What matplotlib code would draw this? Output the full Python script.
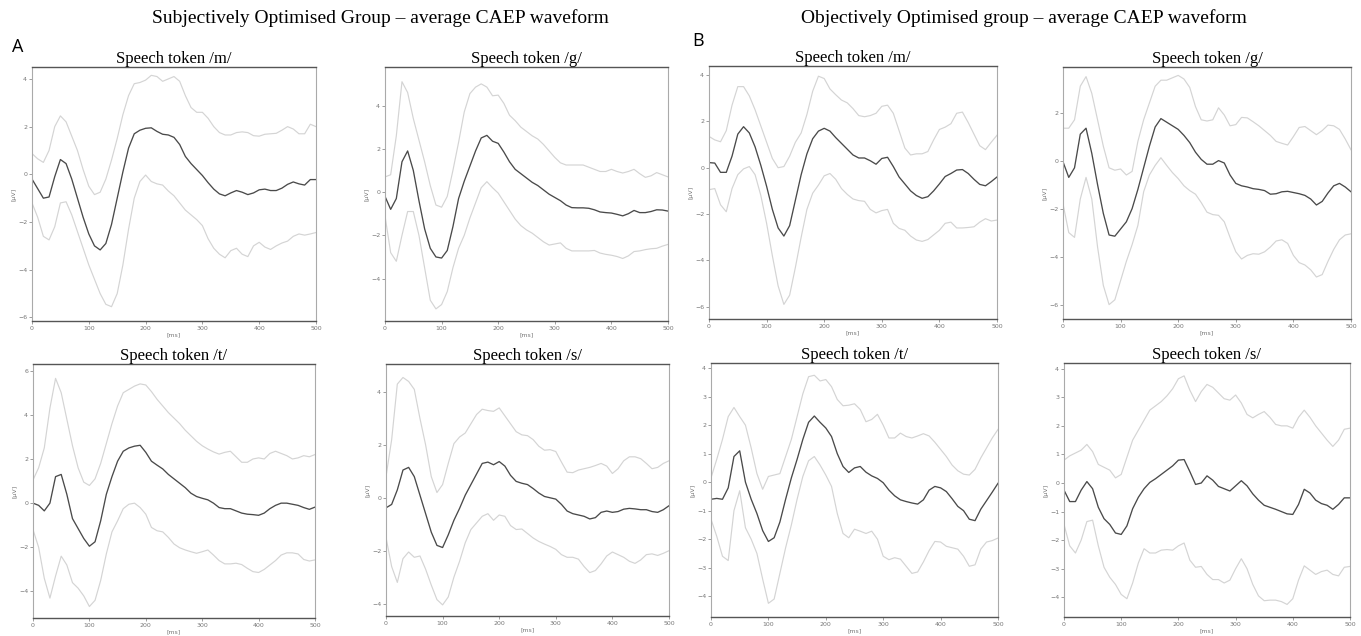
import numpy as np
import matplotlib.pyplot as plt

# time axis of the averaged waveforms (ms), one sample every 10 ms
ms = np.arange(0, 510, 10)

# Subjectively optimised group (panel A)
subj_m_mean = [-0.2, -0.6, -1.0, -0.95, -0.1, 0.62, 0.45, -0.2, -1.0, -1.8,
               -2.5, -3.0, -3.17, -2.9, -2.1, -1.0, 0.1, 1.1, 1.7, 1.85,
               1.93, 1.95, 1.8, 1.68, 1.65, 1.55, 1.25, 0.75, 0.45, 0.2,
               -0.05, -0.35, -0.62, -0.82, -0.9, -0.78, -0.68, -0.75, -0.85, -0.78,
               -0.65, -0.62, -0.68, -0.68, -0.58, -0.42, -0.32, -0.4, -0.45, -0.22, -0.22]
subj_m_upper = [0.87, 0.65, 0.5, 1.0, 2.0, 2.45, 2.2, 1.6, 1.0, 0.2,
                -0.5, -0.85, -0.75, -0.2, 0.6, 1.5, 2.5, 3.3, 3.8, 3.85,
                3.95, 4.15, 4.1, 3.9, 4.0, 4.1, 3.9, 3.3, 2.8, 2.6,
                2.6, 2.35, 2.0, 1.75, 1.65, 1.65, 1.75, 1.78, 1.75, 1.62,
                1.6, 1.68, 1.7, 1.72, 1.85, 2.0, 1.9, 1.7, 1.7, 2.1, 2.0]
subj_m_lower = [-1.2, -1.8, -2.6, -2.75, -2.2, -1.2, -1.15, -1.7, -2.4, -3.1,
                -3.8, -4.4, -5.0, -5.45, -5.55, -5.0, -3.8, -2.3, -1.0, -0.3,
                -0.03, -0.3, -0.4, -0.45, -0.7, -0.9, -1.2, -1.5, -1.7, -1.9,
                -2.15, -2.7, -3.1, -3.35, -3.5, -3.2, -3.1, -3.35, -3.45, -3.0,
                -2.85, -3.05, -3.15, -3.0, -2.88, -2.8, -2.6, -2.5, -2.55, -2.5, -2.44]

subj_g_mean = [-0.2, -0.8, -0.3, 1.4, 1.9, 1.0, -0.4, -1.7, -2.6, -3.0,
               -3.05, -2.7, -1.6, -0.3, 0.5, 1.2, 1.9, 2.5, 2.62, 2.35,
               2.25, 1.85, 1.4, 1.05, 0.85, 0.65, 0.45, 0.3, 0.1, -0.1,
               -0.25, -0.4, -0.6, -0.72, -0.73, -0.73, -0.75, -0.82, -0.92, -0.95,
               -0.97, -1.03, -1.1, -1.0, -0.85, -0.95, -0.95, -0.9, -0.82, -0.83, -0.88]
subj_g_upper = [0.7, 0.8, 2.6, 5.1, 4.6, 3.4, 2.4, 1.4, 0.3, -0.6,
                -0.7, -0.2, 1.0, 2.3, 3.7, 4.55, 4.85, 5.0, 4.85, 4.45,
                4.48, 4.1, 3.55, 3.3, 3.0, 2.8, 2.6, 2.45, 2.2, 1.9,
                1.6, 1.35, 1.25, 1.25, 1.25, 1.25, 1.15, 1.05, 0.95, 0.95,
                1.05, 0.95, 0.88, 0.95, 1.05, 0.85, 0.68, 0.75, 0.9, 0.8, 0.7]
subj_g_lower = [-1.1, -2.8, -3.2, -2.0, -0.9, -0.9, -2.0, -3.5, -5.0, -5.4,
                -5.2, -4.6, -3.5, -2.6, -2.0, -1.2, -0.5, 0.2, 0.48, 0.2,
                -0.05, -0.45, -0.85, -1.25, -1.55, -1.75, -1.9, -2.1, -2.3, -2.45,
                -2.4, -2.35, -2.6, -2.72, -2.72, -2.72, -2.72, -2.7, -2.82, -2.88,
                -2.92, -2.98, -3.07, -2.95, -2.75, -2.72, -2.66, -2.62, -2.6, -2.5, -2.42]

subj_t_mean = [0.0, -0.1, -0.35, 0.0, 1.2, 1.3, 0.4, -0.7, -1.15, -1.6,
               -1.95, -1.75, -0.8, 0.4, 1.2, 1.9, 2.35, 2.5, 2.58, 2.62,
               2.3, 1.9, 1.72, 1.55, 1.3, 1.1, 0.9, 0.7, 0.45, 0.3,
               0.22, 0.15, 0.0, -0.2, -0.25, -0.25, -0.35, -0.45, -0.5, -0.52,
               -0.55, -0.45, -0.25, -0.1, 0.0, 0.0, -0.05, -0.1, -0.2, -0.28, -0.18]
subj_t_upper = [1.05, 1.6, 2.5, 4.3, 5.65, 5.0, 3.8, 2.6, 1.6, 0.95,
                0.8, 1.1, 1.8, 2.7, 3.6, 4.4, 5.0, 5.15, 5.3, 5.4,
                5.35, 5.05, 4.7, 4.4, 4.1, 3.85, 3.6, 3.3, 3.05, 2.8,
                2.6, 2.45, 2.32, 2.22, 2.3, 2.35, 2.1, 1.85, 1.85, 2.0,
                2.05, 2.0, 2.25, 2.35, 2.25, 2.15, 2.0, 2.05, 2.15, 2.1, 2.2]
subj_t_lower = [-1.2, -2.0, -3.4, -4.3, -3.3, -2.4, -2.8, -3.6, -3.85, -4.2,
                -4.68, -4.4, -3.5, -2.3, -1.3, -0.8, -0.25, -0.05, 0.0, -0.2,
                -0.5, -1.1, -1.25, -1.3, -1.55, -1.85, -2.02, -2.12, -2.2, -2.27,
                -2.2, -2.12, -2.35, -2.6, -2.75, -2.75, -2.72, -2.78, -2.95, -3.1,
                -3.14, -3.0, -2.8, -2.6, -2.35, -2.25, -2.25, -2.3, -2.55, -2.62, -2.57]

subj_s_mean = [-0.38, -0.25, 0.3, 1.05, 1.15, 0.8, 0.1, -0.6, -1.3, -1.8,
               -1.88, -1.4, -0.85, -0.4, 0.1, 0.5, 0.9, 1.3, 1.35, 1.25,
               1.37, 1.2, 0.85, 0.62, 0.55, 0.5, 0.35, 0.18, 0.05, 0.0,
               -0.05, -0.25, -0.5, -0.6, -0.65, -0.7, -0.8, -0.75, -0.55, -0.5,
               -0.55, -0.52, -0.43, -0.4, -0.42, -0.45, -0.45, -0.52, -0.55, -0.45, -0.3]
subj_s_upper = [0.8, 2.2, 4.3, 4.55, 4.4, 4.1, 3.0, 2.0, 0.8, 0.2,
                0.5, 1.3, 2.05, 2.3, 2.45, 2.8, 3.15, 3.35, 3.3, 3.27,
                3.4, 3.1, 2.8, 2.5, 2.38, 2.35, 2.2, 1.95, 1.8, 1.82,
                1.75, 1.35, 0.97, 0.95, 1.05, 1.1, 1.15, 1.22, 1.3, 1.2,
                0.92, 1.1, 1.4, 1.55, 1.55, 1.48, 1.3, 1.1, 1.15, 1.3, 1.4]
subj_s_lower = [-1.5, -2.6, -3.2, -2.3, -2.05, -2.25, -2.2, -2.7, -3.3, -3.85,
                -4.05, -3.75, -3.0, -2.4, -1.7, -1.2, -0.95, -0.7, -0.6, -0.85,
                -0.65, -0.7, -1.05, -1.2, -1.18, -1.35, -1.52, -1.65, -1.75, -1.84,
                -1.95, -2.15, -2.25, -2.25, -2.32, -2.6, -2.83, -2.75, -2.5, -2.2,
                -2.05, -2.15, -2.25, -2.4, -2.48, -2.35, -2.15, -2.12, -2.18, -2.1, -2.0]

# Objectively optimised group (panel B)
obj_m_mean = [0.22, 0.2, -0.2, -0.2, 0.5, 1.45, 1.77, 1.5, 0.9, 0.1,
              -0.8, -1.8, -2.6, -2.95, -2.5, -1.4, -0.3, 0.6, 1.25, 1.58,
              1.7, 1.58, 1.3, 1.05, 0.8, 0.55, 0.42, 0.42, 0.3, 0.15,
              0.4, 0.45, 0.05, -0.4, -0.7, -1.0, -1.2, -1.32, -1.25, -1.0,
              -0.7, -0.38, -0.25, -0.1, -0.08, -0.25, -0.5, -0.72, -0.78, -0.6, -0.4]
obj_m_upper = [1.35, 1.2, 1.12, 1.6, 2.7, 3.5, 3.5, 3.1, 2.5, 1.8,
               1.1, 0.4, 0.0, 0.05, 0.5, 1.1, 1.5, 2.3, 3.3, 3.95,
               3.85, 3.4, 3.15, 2.92, 2.8, 2.55, 2.25, 2.2, 2.25, 2.35,
               2.65, 2.7, 2.35, 1.6, 0.85, 0.55, 0.6, 0.6, 0.7, 1.2,
               1.65, 1.75, 1.9, 2.35, 2.4, 1.95, 1.45, 0.95, 0.78, 1.1, 1.4]
obj_m_lower = [-0.95, -0.9, -1.6, -1.9, -0.9, -0.3, -0.05, 0.05, -0.3, -1.2,
               -2.4, -3.8, -5.1, -5.9, -5.5, -4.3, -3.0, -1.8, -1.1, -0.75,
               -0.35, -0.25, -0.5, -0.9, -1.15, -1.35, -1.42, -1.45, -1.8, -1.95,
               -1.85, -1.8, -2.4, -2.62, -2.7, -2.95, -3.12, -3.18, -3.1, -2.9,
               -2.7, -2.4, -2.35, -2.6, -2.6, -2.58, -2.55, -2.35, -2.2, -2.3, -2.26]

obj_g_mean = [-0.05, -0.7, -0.3, 1.1, 1.35, 0.3, -1.0, -2.2, -3.1, -3.15,
              -2.85, -2.55, -2.0, -1.2, -0.3, 0.6, 1.4, 1.75, 1.6, 1.45,
              1.3, 1.05, 0.75, 0.35, 0.05, -0.15, -0.15, 0.0, -0.1, -0.6,
              -0.95, -1.05, -1.1, -1.17, -1.2, -1.25, -1.4, -1.38, -1.3, -1.28,
              -1.33, -1.38, -1.45, -1.6, -1.85, -1.7, -1.35, -1.05, -0.95, -1.1, -1.3]
obj_g_upper = [1.35, 1.35, 1.7, 3.1, 3.5, 2.8, 1.7, 0.6, -0.3, -0.4,
               -0.35, -0.6, -0.45, 0.8, 1.7, 2.4, 3.1, 3.35, 3.35, 3.45,
               3.55, 3.4, 3.05, 2.25, 1.7, 1.65, 1.7, 2.2, 1.9, 1.45,
               1.5, 1.8, 1.78, 1.62, 1.45, 1.25, 1.05, 0.8, 0.72, 0.65,
               1.0, 1.38, 1.42, 1.25, 1.08, 1.25, 1.48, 1.45, 1.3, 0.9, 0.45]
obj_g_lower = [-1.8, -3.0, -3.2, -1.6, -0.7, -1.6, -3.6, -5.2, -6.0, -5.8,
               -5.0, -4.2, -3.5, -2.7, -1.3, -0.6, -0.2, 0.12, -0.2, -0.5,
               -0.75, -1.05, -1.25, -1.4, -1.75, -2.15, -2.25, -2.28, -2.55, -3.2,
               -3.8, -4.1, -3.95, -3.88, -3.9, -3.8, -3.6, -3.35, -3.3, -3.45,
               -3.95, -4.25, -4.35, -4.55, -4.85, -4.75, -4.2, -3.7, -3.3, -3.1, -3.05]

obj_t_mean = [-0.6, -0.57, -0.6, -0.2, 0.9, 1.1, 0.0, -0.6, -1.1, -1.7,
              -2.08, -1.95, -1.4, -0.6, 0.15, 0.8, 1.5, 2.1, 2.32, 2.1,
              1.9, 1.6, 1.0, 0.55, 0.34, 0.5, 0.55, 0.35, 0.22, 0.13,
              -0.02, -0.28, -0.48, -0.62, -0.68, -0.73, -0.77, -0.62, -0.28, -0.15,
              -0.2, -0.33, -0.58, -0.85, -1.0, -1.3, -1.35, -0.95, -0.65, -0.35, -0.04]
obj_t_upper = [0.15, 0.8, 1.5, 2.3, 2.62, 2.3, 2.0, 1.2, 0.3, -0.25,
               0.2, 0.25, 0.3, 0.9, 1.5, 2.3, 3.1, 3.7, 3.75, 3.55,
               3.6, 3.35, 2.9, 2.68, 2.7, 2.75, 2.55, 2.12, 2.2, 2.38,
               2.0, 1.55, 1.55, 1.72, 1.6, 1.55, 1.62, 1.7, 1.62, 1.4,
               1.15, 0.9, 0.6, 0.4, 0.28, 0.25, 0.45, 0.85, 1.2, 1.55, 1.85]
obj_t_lower = [-1.3, -1.9, -2.6, -2.75, -1.0, -0.3, -1.6, -2.0, -2.5, -3.4,
               -4.25, -4.1, -3.2, -2.3, -1.5, -0.6, 0.2, 0.75, 0.9, 0.6,
               0.25, -0.15, -1.1, -1.8, -1.95, -1.65, -1.72, -1.8, -1.72, -2.0,
               -2.6, -2.72, -2.65, -2.7, -2.95, -3.2, -3.15, -2.8, -2.4, -2.08,
               -2.1, -2.25, -2.3, -2.35, -2.6, -2.95, -2.9, -2.35, -2.1, -2.05, -1.96]

obj_s_mean = [-0.25, -0.65, -0.65, -0.25, 0.05, -0.2, -0.85, -1.25, -1.45, -1.75,
              -1.8, -1.5, -0.9, -0.5, -0.2, 0.02, 0.15, 0.3, 0.45, 0.6,
              0.8, 0.82, 0.4, -0.05, 0.0, 0.25, 0.1, -0.12, -0.2, -0.28,
              -0.1, 0.08, -0.1, -0.38, -0.6, -0.78, -0.85, -0.92, -1.0, -1.08,
              -1.1, -0.75, -0.22, -0.35, -0.6, -0.72, -0.78, -0.92, -0.75, -0.52, -0.52]
obj_s_upper = [0.8, 0.95, 1.05, 1.15, 1.35, 1.1, 0.65, 0.55, 0.45, 0.18,
               0.3, 0.9, 1.5, 1.85, 2.2, 2.55, 2.7, 2.85, 3.05, 3.3,
               3.65, 3.75, 3.25, 2.85, 3.2, 3.45, 3.35, 3.15, 2.95, 2.9,
               3.08, 2.8, 2.4, 2.28, 2.4, 2.5, 2.3, 2.05, 2.0, 2.0,
               1.92, 2.3, 2.55, 2.3, 2.0, 1.75, 1.5, 1.28, 1.5, 1.88, 1.92]
obj_s_lower = [-1.45, -2.2, -2.45, -2.0, -1.35, -1.3, -2.2, -2.95, -3.3, -3.55,
               -3.9, -4.05, -3.5, -2.8, -2.3, -2.45, -2.45, -2.35, -2.33, -2.35,
               -2.2, -2.1, -2.7, -2.95, -2.92, -3.2, -3.38, -3.38, -3.5, -3.4,
               -3.0, -2.65, -3.0, -3.55, -3.95, -4.12, -4.1, -4.1, -4.15, -4.25,
               -4.05, -3.4, -2.9, -3.05, -3.2, -3.1, -3.05, -3.2, -3.25, -2.95, -2.92]

xticks = [0, 100, 200, 300, 400, 500]

W, H = 1361, 636
fig = plt.figure(figsize=(W / 100, H / 100), dpi=100)
serif = 'Liberation Serif'

# (title, mean, upper, lower, pixel box l/t/r/b, ylim, yticks, title pad)
panels = [
    ('Speech token /m/', subj_m_mean, subj_m_upper, subj_m_lower, (32, 67, 316, 321), (-6.15, 4.5), [-6, -4, -2, 0, 2, 4], 3),
    ('Speech token /g/', subj_g_mean, subj_g_upper, subj_g_lower, (385, 67, 668, 321), (-5.96, 5.78), [-4, -2, 0, 2, 4], 3),
    ('Speech token /t/', subj_t_mean, subj_t_upper, subj_t_lower, (33, 364, 315, 618), (-5.2, 6.3), [-4, -2, 0, 2, 4, 6], 1),
    ('Speech token /s/', subj_s_mean, subj_s_upper, subj_s_lower, (386, 364, 669, 616), (-4.47, 5.06), [-4, -2, 0, 2, 4], 1),
    ('Speech token /m/', obj_m_mean, obj_m_upper, obj_m_lower, (709, 66, 997, 319), (-6.53, 4.39), [-6, -4, -2, 0, 2, 4], 3),
    ('Speech token /g/', obj_g_mean, obj_g_upper, obj_g_lower, (1063, 67, 1351, 319), (-6.6, 3.9), [-6, -4, -2, 0, 2], 3),
    ('Speech token /t/', obj_t_mean, obj_t_upper, obj_t_lower, (711, 363, 998, 617), (-4.73, 4.18), [-4, -3, -2, -1, 0, 1, 2, 3, 4], 1.5),
    ('Speech token /s/', obj_s_mean, obj_s_upper, obj_s_lower, (1064, 363, 1350, 617), (-4.69, 4.2), [-4, -3, -2, -1, 0, 1, 2, 3, 4], 1.5),
]

for title, mean, upper, lower, box, ylim, yt, pad in panels:
    l, t, r, b = box
    ax = fig.add_axes([l / W, 1 - b / H, (r - l) / W, (b - t) / H])
    ax.plot(ms, upper, color='#d4d4d4', lw=0.85)
    ax.plot(ms, lower, color='#d4d4d4', lw=0.85)
    ax.plot(ms, mean, color='#4a4a4a', lw=0.95)
    ax.set_xlim(0, 500)
    ax.set_ylim(*ylim)
    ax.set_xticks(xticks)
    ax.set_yticks(yt)
    ax.tick_params(labelsize=4.5, length=2, width=0.5, colors='#777', pad=1.5)
    ax.set_xlabel('[ms]', fontsize=4.5, color='#777', labelpad=1)
    ax.set_ylabel('[µV]', fontsize=4.5, color='#777', labelpad=1)
    ax.set_title(title, fontsize=12, family=serif, pad=pad)
    for side in ['left', 'right']:
        ax.spines[side].set_color('#aaaaaa')
        ax.spines[side].set_linewidth(0.8)
    for side in ['top', 'bottom']:
        ax.spines[side].set_color('#555555')
        ax.spines[side].set_linewidth(1.0)

fig.text(380 / W, 1 - 18 / H, 'Subjectively Optimised Group \u2013 average CAEP waveform',
         family=serif, fontsize=14, ha='center', va='center')
fig.text(1024 / W, 1 - 18 / H, 'Objectively Optimised group \u2013 average CAEP waveform',
         family=serif, fontsize=14, ha='center', va='center')
fig.text(18 / W, 1 - 47 / H, 'A', family='Open Sans', fontsize=13, ha='center', va='center')
fig.text(698 / W, 1 - 41 / H, 'B', family='Open Sans', fontsize=13, ha='center', va='center')

fig.savefig('out.png', dpi=100)
